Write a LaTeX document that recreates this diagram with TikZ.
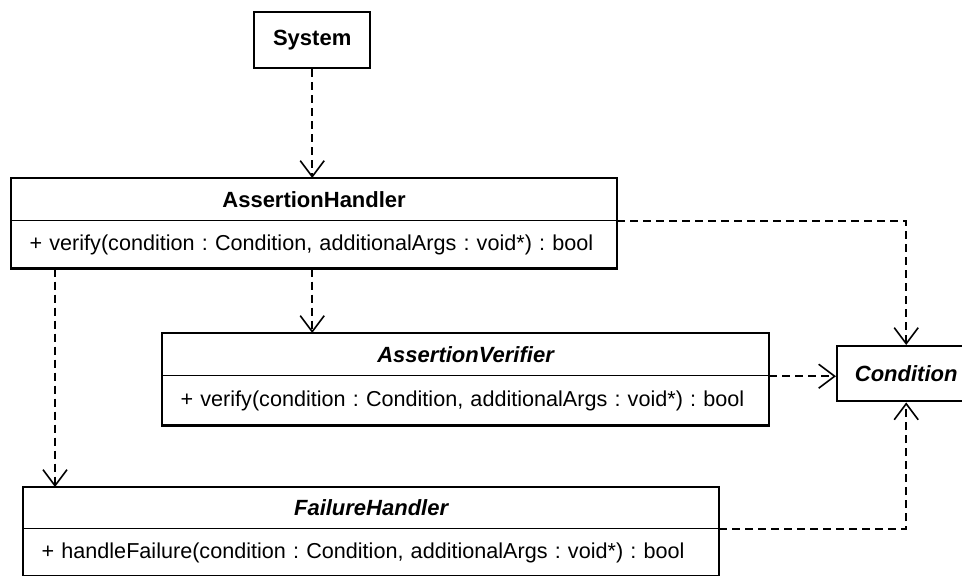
\documentclass[tikz,border=0pt]{standalone}
\usepackage{fontspec}
\setmainfont{Liberation Sans}
\usetikzlibrary{positioning,arrows.meta}
\frenchspacing

\tikzset{
  umlfont/.style={font=\fontsize{21.6}{25}\selectfont},
  umlhead/.style={draw, line width=1.2pt, umlfont, inner xsep=0pt, inner ysep=0pt,
        align=center, minimum height=42pt},
  umlbody/.style={umlfont, inner xsep=18pt, inner ysep=0pt, align=left, minimum height=47pt},
  umlbox/.style={line width=2.4pt},
  dep/.style={draw, line width=1.5pt, dash pattern=on 8pt off 5pt,
        -{Straight Barb[length=16pt,width=24pt,line width=1.6pt]}}
}

\begin{document}
\begin{tikzpicture}[x=1pt, y=-1pt]
\useasboundingbox (0,0) rectangle (962,576);
\clip (0,0) rectangle (962,576);

% System
\node[umlhead, umlbox, text width=116pt, minimum height=56pt, anchor=north west, font=\fontsize{22}{25}\selectfont\bfseries]
        (sys) at (253,11) {System};

% AssertionHandler
\node[umlhead, text width=605pt, anchor=north west, font=\fontsize{22}{25}\selectfont\bfseries]
        (ah) at (11,178) {AssertionHandler};
\node[umlbody, text width=569pt, below=0pt of ah] (ahm)
        {+ verify(condition : Condition, additionalArgs : void*) : bool};
\draw[umlbox] (ah.north west) rectangle (ahm.south east);

% AssertionVerifier
\node[umlhead, text width=606pt, anchor=north west, font=\fontsize{22}{25}\selectfont\bfseries\itshape]
        (av) at (162,333) {AssertionVerifier};
\node[umlbody, text width=570pt, minimum height=49pt, below=0pt of av] (avm)
        {+ verify(condition : Condition, additionalArgs : void*) : bool};
\draw[umlbox] (av.north west) rectangle (avm.south east);

% FailureHandler
\node[umlhead, text width=695pt, minimum height=41pt, anchor=north west, font=\fontsize{22}{25}\selectfont\bfseries\itshape]
        (fh) at (23,487) {FailureHandler};
\node[umlbody, text width=659pt, below=0pt of fh] (fhm)
        {+ handleFailure(condition : Condition, additionalArgs : void*) : bool};
\draw[umlbox] (fh.north west) rectangle (fhm.south east);

% Condition
\node[umlhead, umlbox, text width=138pt, minimum height=55pt, anchor=north west, font=\fontsize{22}{25}\selectfont\bfseries\itshape]
        (cond) at (836,345) {Condition};

% Dependencies
\coordinate (fx) at (55,0);
\draw[dep] (sys) -- (sys |- ah.north);
\draw[dep] (sys |- ahm.south) -- (sys |- av.north);
\draw[dep] (ahm.south -| fx) -- (fh.north -| fx);
\draw[dep] (ah.south east) -| (cond.north);
\draw[dep] (av.south east) -- (av.south east -| cond.west);
\draw[dep] (fh.south east) -| (cond.south);

\end{tikzpicture}
\end{document}
